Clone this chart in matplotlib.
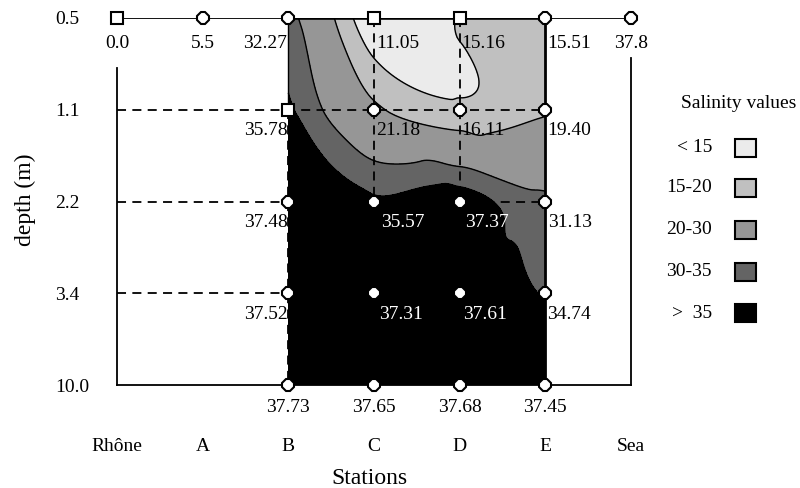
import numpy as np
import matplotlib
matplotlib.use('Agg')
import matplotlib.pyplot as plt
import matplotlib.tri as mtri
from matplotlib.patches import Rectangle

plt.rcParams['font.family'] = ['Liberation Serif', 'DejaVu Serif']

# ---------------- data ----------------
stations = ['Rhône', 'A', 'B', 'C', 'D', 'E', 'Sea']
depth_labels = ['0.5', '1.1', '2.2', '3.4', '10.0']

# surface (0.5 m) salinity at every station
surface_salinity = [0.0, 5.5, 32.27, 11.05, 15.16, 15.51, 37.8]
surface_markers = ['s', '8', '8', 's', 's', '8', '8']

# profiles at stations B..E (depths 0.5, 1.1, 2.2, 3.4, 10.0)
profile_stations = ['B', 'C', 'D', 'E']
salinity_B = [32.27, 35.78, 37.48, 37.52, 37.73]
salinity_C = [11.05, 21.18, 35.57, 37.31, 37.65]
salinity_D = [15.16, 16.11, 37.37, 37.61, 37.68]
salinity_E = [15.51, 19.40, 31.13, 34.74, 37.45]

levels = [-100, 15, 20, 30, 35, 100]
class_labels = ['< 15', '15-20', '20-30', '30-35', '>  35']
class_colors = ['#ebebeb', '#c0c0c0', '#969696', '#646464', '#000000']

# ---------------- figure ----------------
W, H = 800, 488
fig = plt.figure(figsize=(W / 100, H / 100), dpi=100)
ax = fig.add_axes([117 / W, 103 / H, 514 / W, 367 / H])
ax.set_xlim(0, len(stations) - 1)
ax.set_ylim(len(depth_labels) - 1, 0)

profiles = [salinity_B, salinity_C, salinity_D, salinity_E]
xs, ys, zs = [], [], []
for s, prof in zip(profile_stations, profiles):
    xi = stations.index(s)
    for di, v in enumerate(prof):
        xs.append(xi)
        ys.append(di)
        zs.append(v)
xs = np.array(xs, float)
ys = np.array(ys, float)
zs = np.array(zs, float)

# triangulation of the station/depth grid
nx, ny = len(profile_stations), len(depth_labels)
def node(i, j):
    return i * ny + j
fwd_cells = {(2, 2)}
triangles = []
for i in range(nx - 1):
    for j in range(ny - 1):
        a, b, c, d = node(i, j), node(i + 1, j), node(i, j + 1), node(i + 1, j + 1)
        if (i, j) in fwd_cells:
            triangles += [[a, b, c], [b, d, c]]
        else:
            triangles += [[a, b, d], [a, d, c]]
tri = mtri.Triangulation(xs, ys, triangles)
refiner = mtri.UniformTriRefiner(tri)
interp = mtri.CubicTriInterpolator(tri, zs, kind='geom')
tri_f, z_f = refiner.refine_field(zs, triinterpolator=interp, subdiv=5)
ax.tricontourf(tri_f, z_f, levels=levels, colors=class_colors, zorder=1)
ax.tricontour(tri_f, z_f, levels=levels[1:-1], colors='black', linewidths=1.0, zorder=3)

x0 = stations.index(profile_stations[0])
x1 = stations.index(profile_stations[-1])
nd = len(depth_labels) - 1

# dashed grid lines
dash = (0, (5, 3.5))
for d in range(1, nd):
    ax.plot([0, x1], [d, d], color='black', lw=1.3, ls=dash, zorder=2)
for s in profile_stations[1:-1]:
    xi = stations.index(s)
    ax.plot([xi, xi], [0, nd], color='black', lw=1.3, ls=dash, zorder=2)
ax.plot([x0, x0], [1, nd], color='black', lw=1.3, ls=dash, zorder=2)

# borders of contour area
ax.plot([x0, x1], [0, 0], color='black', lw=2.6, zorder=4, solid_capstyle='butt')
ax.plot([x1, x1], [0, nd], color='black', lw=2.0, zorder=4)
ax.plot([x0, x0], [0, 1], color='black', lw=1.0, zorder=4)

# top line (surface)
ax.plot(range(len(stations)), [0] * len(stations), color='black', lw=1.3, zorder=4)

ms = 9
for xi, (v, mk) in enumerate(zip(surface_salinity, surface_markers)):
    ax.plot(xi, 0, marker=mk, ms=ms, mfc='white', mec='black', mew=1.5,
            zorder=6, clip_on=False)

for s, prof in zip(profile_stations, profiles):
    xi = stations.index(s)
    for di in range(1, len(prof)):
        mk = 's' if (s == 'B' and di == 1) else '8'
        ax.plot(xi, di, marker=mk, ms=ms, mfc='white', mec='black', mew=1.5,
                zorder=6, clip_on=False)

# value labels
PT = 0.72  # px -> pt
fs = 14

def lab(xi, di, txt, ha, dx, dy, color='black'):
    ax.annotate(txt, (xi, di), xytext=(dx * PT, -dy * PT),
                textcoords='offset points', ha=ha, va='center',
                fontsize=fs, color=color, zorder=7)

for xi, v in enumerate(surface_salinity):
    s = stations[xi]
    if s in ('Rhône', 'A', 'Sea'):
        lab(xi, 0, f'{v:.1f}', 'center', 0, 25)
    elif s == 'B':
        lab(xi, 0, f'{v:.2f}', 'right', -1, 25)
    else:
        lab(xi, 0, f'{v:.2f}', 'left', 2, 25)

row_dx = {1: [-1, 2, 2, 2], 2: [-1, 7, 5, 3], 3: [-1, 5, 3, 2]}
for j, (s, prof) in enumerate(zip(profile_stations, profiles)):
    xi = stations.index(s)
    for di in (1, 2, 3):
        dx = row_dx[di][j]
        ha = 'right' if s == 'B' else 'left'
        color = 'white' if (s in ('C', 'D') and di >= 2) else 'black'
        lab(xi, di, f'{prof[di]:.2f}', ha, dx, 21, color)
    lab(xi, 4, f'{prof[4]:.2f}', 'center', 0, 23)

# axes styling
for sp in ['left', 'right', 'top', 'bottom']:
    ax.spines[sp].set_linewidth(1.3)
ax.spines['top'].set_visible(False)
ax.spines['left'].set_bounds(0.545, nd)
ax.spines['right'].set_bounds(0.436, nd)

ax.set_yticks(range(len(depth_labels)), depth_labels, fontsize=fs)
ax.tick_params(axis='y', which='major', length=0, pad=62 * PT)
for t in ax.get_yticklabels():
    t.set_horizontalalignment('left')
ax.set_yticks([1, 2, 3], minor=True)
ax.tick_params(axis='y', which='minor', length=6, width=1.2, direction='in')

ax.set_xticks(range(len(stations)), stations, fontsize=fs)
ax.tick_params(axis='x', length=0, pad=53 * PT)

ax.set_xlabel('Stations', fontsize=17)
ax.xaxis.label.set_va('center')
ax.xaxis.set_label_coords((369 - 117) / 514, (H - 478 - 103) / 367)
ax.set_ylabel('depth (m)', fontsize=17)
ax.yaxis.label.set_va('center')
ax.yaxis.set_label_coords((25 - 117) / 514, (H - 200 - 103) / 367)

# legend (manual)
fig.text(681 / W, 1 - 104 / H, 'Salinity values', fontsize=fs, ha='left', va='center')
leg_y = [148, 188, 230, 272, 313]
for lbl, col, y in zip(class_labels, class_colors, leg_y):
    fig.text(712 / W, 1 - y / H, lbl, fontsize=fs, ha='right', va='center')
    fig.patches.append(Rectangle((735 / W, 1 - (y + 9) / H), 21 / W, 18 / H,
                                 transform=fig.transFigure, facecolor=col,
                                 edgecolor='black', lw=1.5))

fig.savefig('out.png', dpi=100)
